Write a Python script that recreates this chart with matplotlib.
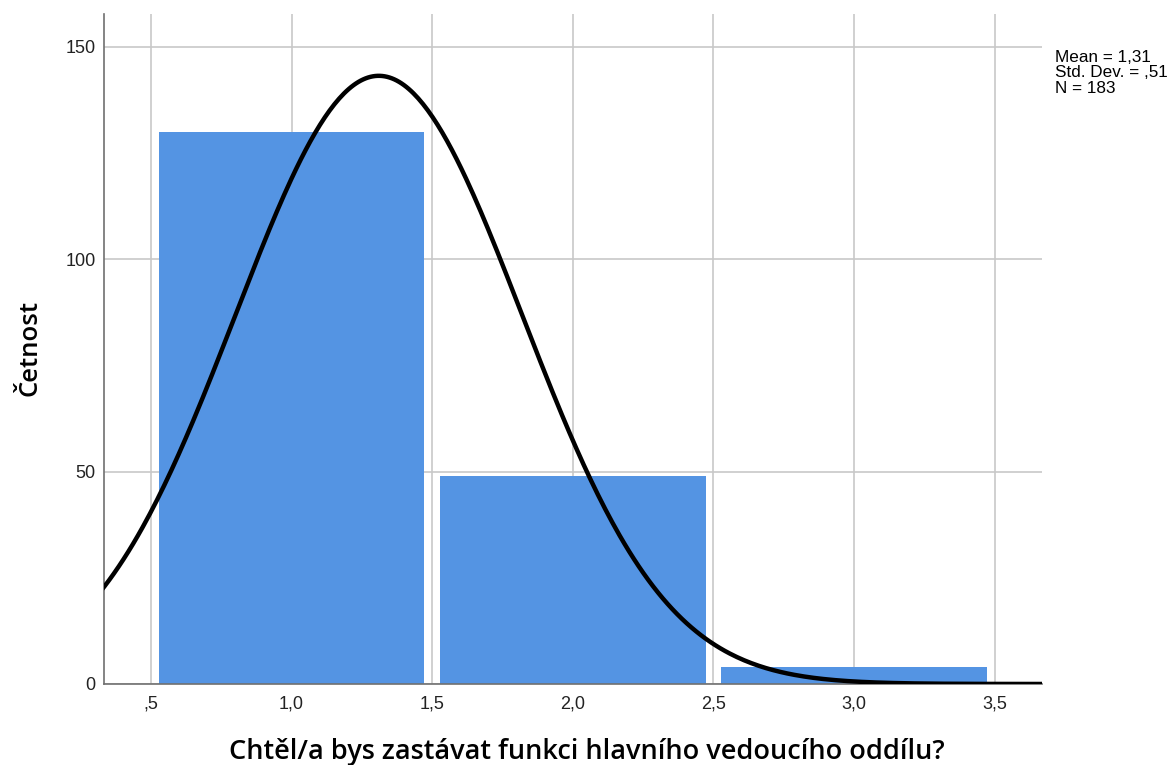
import numpy as np
import matplotlib.pyplot as plt

# histogram bins (centres) and counts
bin_centres = [1.0, 2.0, 3.0]
counts = [130, 49, 4]

# summary stats shown on the chart (used for the normal curve)
mean = 1.31
std = 0.51
n = 183

xticks = [0.5, 1.0, 1.5, 2.0, 2.5, 3.0, 3.5]
xtick_labels = [",5", "1,0", "1,5", "2,0", "2,5", "3,0", "3,5"]
yticks = [0, 50, 100, 150]

fig = plt.figure(figsize=(11.73, 7.65), dpi=100)
ax = fig.add_axes([0.0887, 0.1059, 0.888 - 0.0887, 0.9817 - 0.1059])

ax.set_axisbelow(True)
ax.grid(True, color='#c8c8c8', lw=1.2)

ax.bar(bin_centres, counts, width=0.945, color='#5494e3', zorder=2)

xs = np.linspace(0.3, 3.7, 400)
ys = n * 1.0 / (std * np.sqrt(2 * np.pi)) * np.exp(-0.5 * ((xs - mean) / std) ** 2)
ax.plot(xs, ys, color='black', lw=3.2, zorder=3, solid_capstyle='butt')

ax.set_xlim(0.333, 3.667)
ax.set_ylim(0, 157.7)
ax.set_xticks(xticks)
ax.set_xticklabels(xtick_labels)
ax.set_yticks(yticks)
ax.tick_params(length=0, labelsize=13, colors='#222222')
ax.tick_params(axis='x', pad=8)
ax.tick_params(axis='y', pad=6)
for lab in ax.get_xticklabels() + ax.get_yticklabels():
    lab.set_family('Liberation Sans')

for s in ['top', 'right']:
    ax.spines[s].set_visible(False)
for s in ['left', 'bottom']:
    ax.spines[s].set_color('#707070')
    ax.spines[s].set_linewidth(1.2)

ax.set_xlabel('Chtěl/a bys zastávat funkci hlavního vedoucího oddílu?',
              fontsize=19.5, family='Open Sans', fontweight='semibold')
ax.xaxis.set_label_coords(0.515, -0.101)
ax.xaxis.label.set_va('center')
ax.set_ylabel('Četnost', fontsize=18.5, family='Open Sans', fontweight='semibold')
ax.yaxis.set_label_coords(-0.079, 0.502)
ax.yaxis.label.set_va('center')

fig.text(0.899, 0.935, 'Mean = 1,31\nStd. Dev. = ,51\nN = 183',
         fontsize=12.3, family='Liberation Sans', va='top', ha='left',
         linespacing=1.06)

fig.savefig('out.png', dpi=100)
